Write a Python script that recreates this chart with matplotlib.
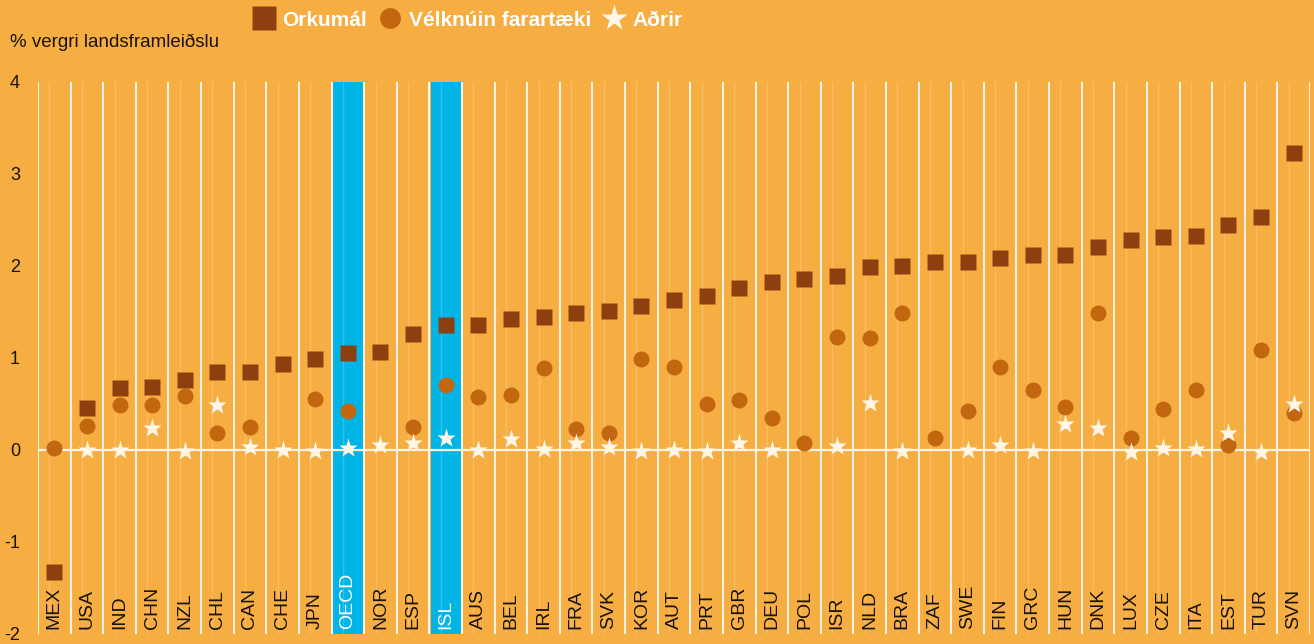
import numpy as np
import matplotlib
matplotlib.use("Agg")
import matplotlib.pyplot as plt
from matplotlib.lines import Line2D

# ── Data ──
countries = ["MEX", "USA", "IND", "CHN", "NZL", "CHL", "CAN", "CHE", "JPN", "OECD",
             "NOR", "ESP", "ISL", "AUS", "BEL", "IRL", "FRA", "SVK", "KOR", "AUT",
             "PRT", "GBR", "DEU", "POL", "ISR", "NLD", "BRA", "ZAF", "SWE", "FIN",
             "GRC", "HUN", "DNK", "LUX", "CZE", "ITA", "EST", "TUR", "SVN"]
orkumal = [-1.33, 0.46, 0.67, 0.68, 0.76, 0.85, 0.85, 0.93, 0.99, 1.05,
           1.07, 1.26, 1.36, 1.36, 1.42, 1.45, 1.49, 1.51, 1.56, 1.63,
           1.67, 1.76, 1.83, 1.86, 1.89, 1.99, 2.00, 2.04, 2.04, 2.09,
           2.12, 2.12, 2.21, 2.28, 2.32, 2.33, 2.45, 2.53, 3.23]
velknuin = [0.02, 0.26, 0.49, 0.49, 0.59, 0.18, 0.25, np.nan, 0.55, 0.42,
            np.nan, 0.25, 0.71, 0.58, 0.60, 0.89, 0.23, 0.19, 0.99, 0.90,
            0.50, 0.54, 0.35, 0.08, 1.23, 1.22, 1.49, 0.13, 0.42, 0.90,
            0.65, 0.47, 1.49, 0.13, 0.45, 0.65, 0.05, 1.09, 0.40]
adrir = [np.nan, 0.00, 0.00, 0.24, -0.01, 0.49, 0.03, 0.00, -0.01, 0.02,
         0.05, 0.08, 0.13, 0.00, 0.12, 0.01, 0.08, 0.03, -0.01, 0.00,
         -0.01, 0.08, 0.00, np.nan, 0.04, 0.51, -0.01, np.nan, 0.00, 0.05,
         -0.01, 0.28, 0.24, -0.02, 0.02, 0.01, 0.18, -0.02, 0.50]
highlight = ["OECD", "ISL"]
yticks = [-2, -1, 0, 1, 2, 3, 4]

# ── Style ──
BG = "#F6AE42"
SQ = "#8E3F10"
CI = "#C2670F"
ST = "#FFF6E8"
HL = "#00B5E5"
DARK = "#1A1208"
FONT = ["Liberation Sans", "DejaVu Sans"]

fig = plt.figure(figsize=(13.14, 6.44), dpi=100, facecolor=BG)
ax = fig.add_axes([38 / 1314, 10 / 644, 1272 / 1314, 552 / 644])
ax.set_facecolor(BG)

x = np.arange(len(countries))
ax.set_xlim(-0.5, len(countries) - 0.5)
ax.set_ylim(-2, 4)

# highlighted columns
for c in highlight:
    i = countries.index(c)
    ax.axvspan(i - 0.46, i + 0.46, color=HL, zorder=1, lw=0)

# column separators + faint inner lines
for b in np.arange(-0.5, len(countries), 1.0):
    ax.axvline(b, color="#FFF3E3", lw=1.5, zorder=2)
for i in x:
    ax.axvline(i - 0.15, color="white", lw=1.0, alpha=0.18, zorder=2)
ax.axhline(0, color="#FFF3E3", lw=1.6, zorder=3)

ax.plot(x, velknuin, "o", color=CI, ms=11.5, mec="none", zorder=4)
ax.plot(x, orkumal, "s", color=SQ, ms=12, mec="none", zorder=5)
ax.plot(x, adrir, "*", color=ST, ms=14, mec="none", zorder=6)

for i, c in enumerate(countries):
    ax.text(i, -1.95, c, rotation=90, ha="center", va="bottom", fontsize=14,
            family=FONT, color="white" if c in highlight else DARK, zorder=7)

ax.set_xticks([])
ax.set_yticks(yticks)
ax.set_yticklabels([str(t) for t in yticks], family=FONT, fontsize=13, color=DARK)
ax.tick_params(axis="y", length=0, pad=13)
for s in ax.spines.values():
    s.set_visible(False)

fig.text(10 / 1314, 1 - 42 / 644, "% vergri landsframleiðslu", family=FONT,
         fontsize=13.5, color=DARK, va="center", ha="left")

handles = [
    Line2D([], [], ls="none", marker="s", color=SQ, ms=17, mec="none"),
    Line2D([], [], ls="none", marker="o", color=CI, ms=15, mec="none"),
    Line2D([], [], ls="none", marker="*", color=ST, ms=20, mec="none"),
]
leg = fig.legend(handles, ["Orkumál", "Vélknúin farartæki", "Aðrir"],
                 loc="center left", bbox_to_anchor=(243 / 1314, 1 - 20 / 644),
                 ncol=3, frameon=False, columnspacing=0.5, handletextpad=0.3,
                 handlelength=1.2, borderaxespad=0,
                 prop={"family": FONT, "size": 15, "weight": "bold"})
for t in leg.get_texts():
    t.set_color("white")

fig.savefig("out.png", dpi=100, facecolor=BG)
